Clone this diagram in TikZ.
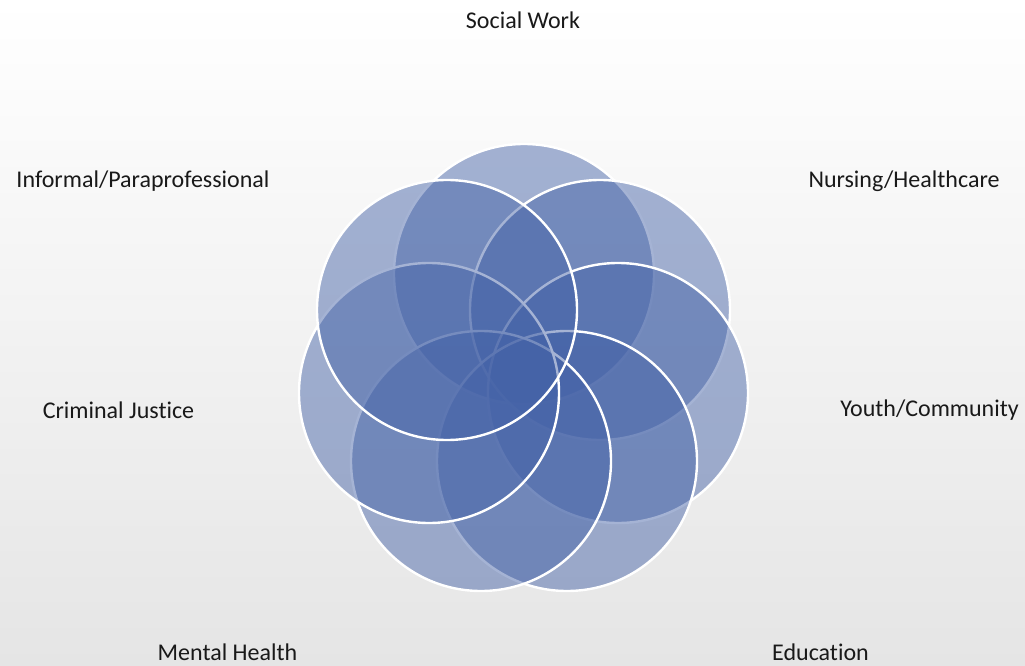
\documentclass[tikz,border=0pt]{standalone}
\usepackage{fontspec}
\setmainfont{Carlito}[Ligatures=NoCommon]
\definecolor{petal}{RGB}{68,98,167}
\definecolor{bgbottom}{RGB}{229,229,229}
\begin{document}
\begin{tikzpicture}[x=1pt,y=-1pt,
  petalc/.style={circle, minimum size=260pt, inner sep=0pt, outer sep=0pt,
    fill=petal, fill opacity=0.48, draw=white, draw opacity=1, line width=2.4pt},
  lbl/.style={font=\fontsize{24}{29}\selectfont, text=black!90, inner sep=0pt}]
\shade[top color=white, bottom color=bgbottom] (0,0) rectangle (1025,666);
\useasboundingbox (0,0) rectangle (1025,666);
% circles in drawing order
\node[petalc] (sw) at (524,274) {};
\node[petalc] (nh) at (600,310) {};
\node[petalc] (yc) at (618,393) {};
\node[petalc] (ed) at (567,461) {};
\node[petalc] (mh) at (481,461) {};
\node[petalc] (cj) at (429,393) {};
\node[petalc] (ip) at (447,310) {};
% labels
\node[lbl] (lsw) at (523,20) {Social Work};
\node[lbl] (lnh) at (904,181) {Nursing/Healthcare};
\node[lbl] (lyc) at (929.5,410) {Youth/Community};
\node[lbl] (led) at (820.5,652) {Education};
\node[lbl] (lmh) at (227.5,652) {Mental Health};
\node[lbl] (lcj) at (118.5,410) {Criminal Justice};
\node[lbl] (lip) at (143,181) {Informal/Paraprofessional};
\end{tikzpicture}
\end{document}
